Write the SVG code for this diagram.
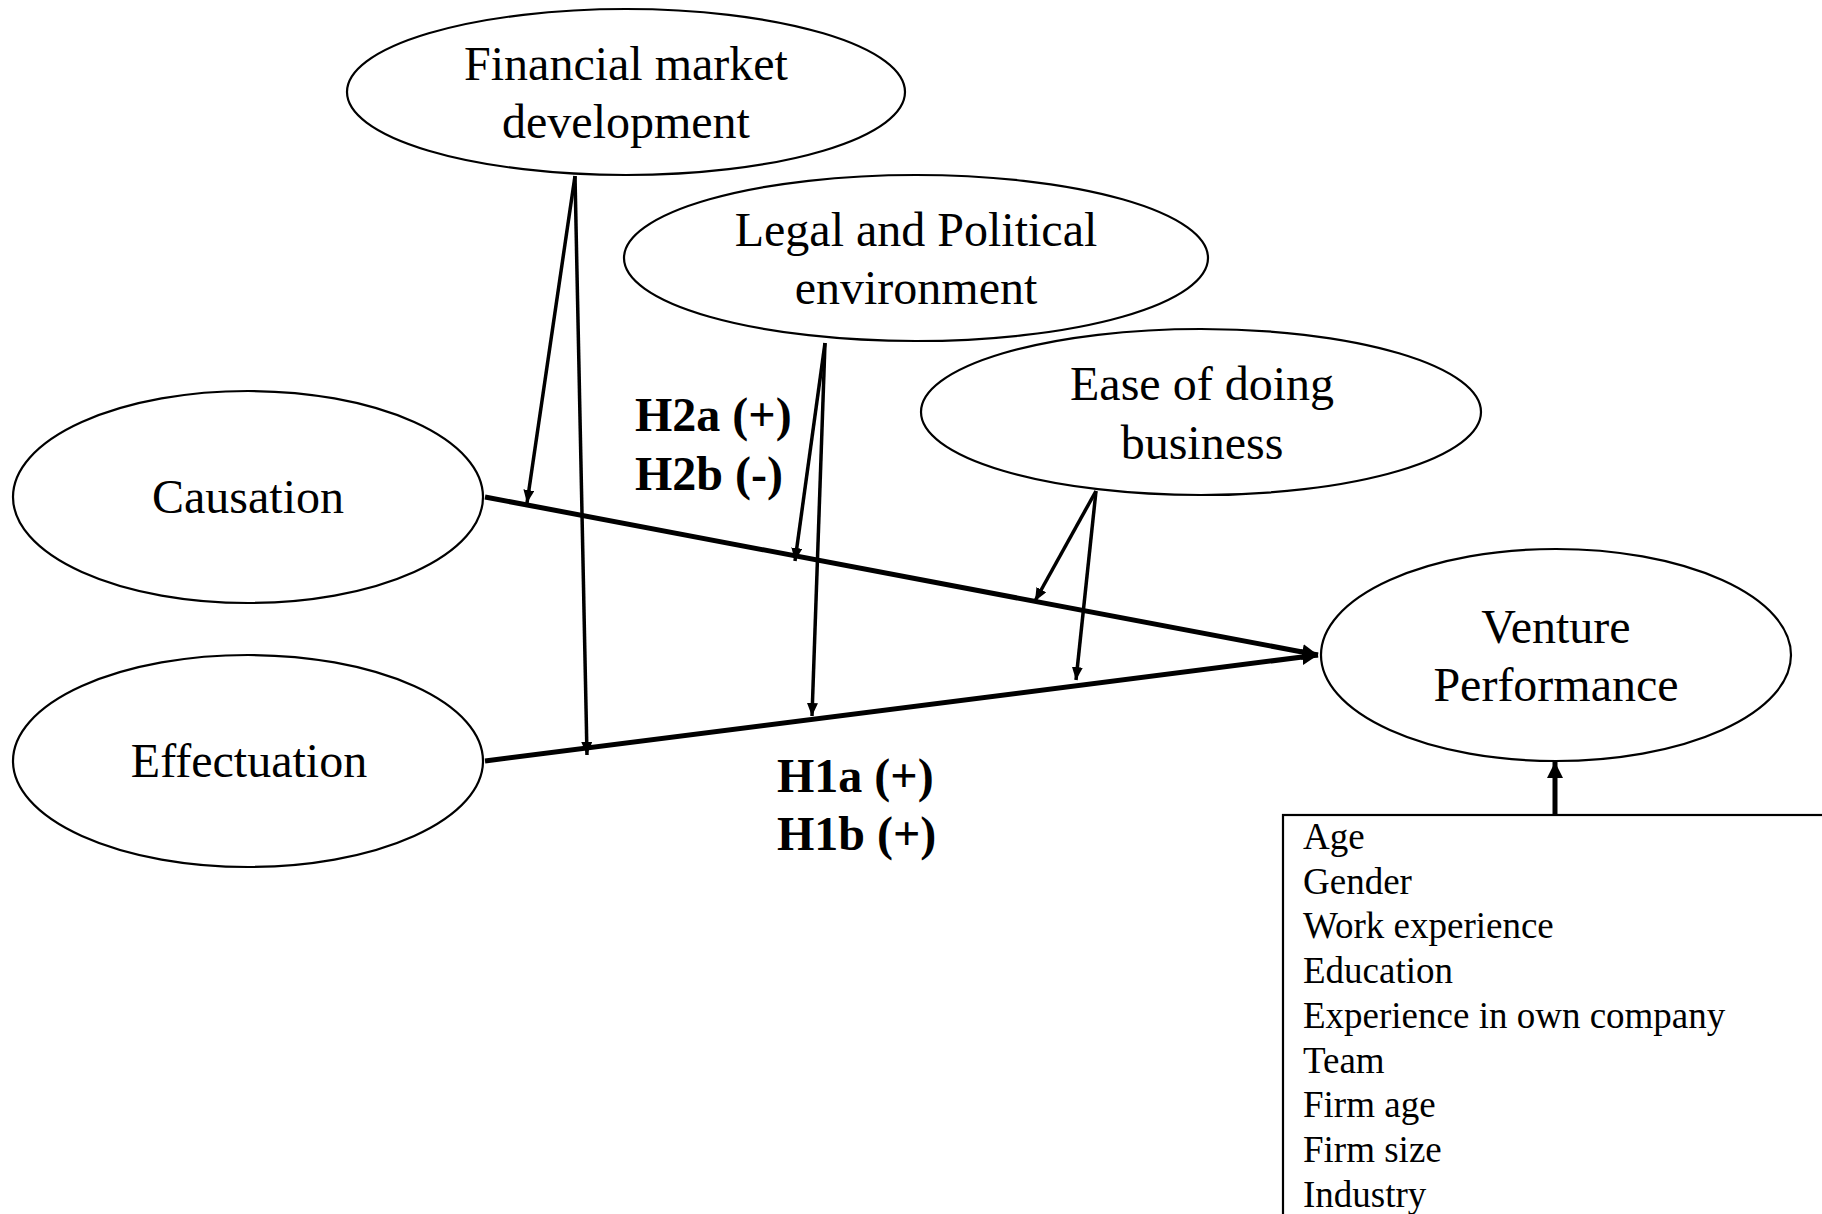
<svg xmlns="http://www.w3.org/2000/svg" width="1822" height="1214" viewBox="0 0 1822 1214">
<style>
.node ellipse{fill:#fff;stroke:#000;stroke-width:2.2}
.lbl{font-family:"Liberation Serif","Times New Roman",serif;font-size:48px;fill:#000;text-anchor:middle}
.hyp{font-family:"Liberation Serif","Times New Roman",serif;font-size:48px;font-weight:bold;fill:#000}
.ctl{font-family:"Liberation Serif","Times New Roman",serif;font-size:37px;fill:#000}
.main{stroke:#000;stroke-width:5;fill:none}
.mod{stroke:#000;stroke-width:3.5;fill:none}
</style>
<defs>
<marker id="ahBig" markerUnits="userSpaceOnUse" markerWidth="18" markerHeight="16" refX="16" refY="8" orient="auto">
<path d="M0,0 L16,8 L0,16 Z" fill="#000"/>
</marker>
<marker id="ahSmall" markerUnits="userSpaceOnUse" markerWidth="15" markerHeight="12" refX="13" refY="5.5" orient="auto">
<path d="M0,0 L13,5.5 L0,11 Z" fill="#000"/>
</marker>
</defs>
<rect x="0" y="0" width="1822" height="1214" fill="#fff"/>

<g id="connectors">
<line class="main" x1="485" y1="497" x2="1318" y2="655" marker-end="url(#ahBig)"/>
<line class="main" x1="485" y1="761" x2="1318" y2="655" marker-end="url(#ahBig)"/>
<line class="mod" x1="575" y1="176" x2="527" y2="503" marker-end="url(#ahSmall)"/>
<line class="mod" x1="575" y1="176" x2="587" y2="755" marker-end="url(#ahSmall)"/>
<line class="mod" x1="825" y1="343" x2="795" y2="561" marker-end="url(#ahSmall)"/>
<line class="mod" x1="825" y1="343" x2="812" y2="716" marker-end="url(#ahSmall)"/>
<line class="mod" x1="1096" y1="491" x2="1035" y2="601" marker-end="url(#ahSmall)"/>
<line class="mod" x1="1096" y1="491" x2="1076" y2="680" marker-end="url(#ahSmall)"/>
<line class="main" x1="1555" y1="815" x2="1555" y2="762" marker-end="url(#ahBig)"/>
</g>

<g id="financial" class="node">
<ellipse cx="626" cy="92" rx="279" ry="83"/>
<text class="lbl" x="626" y="80">Financial market</text>
<text class="lbl" x="626" y="138">development</text>
</g>

<g id="legal" class="node">
<ellipse cx="916" cy="258" rx="292" ry="83"/>
<text class="lbl" x="916" y="246">Legal and Political</text>
<text class="lbl" x="916" y="304">environment</text>
</g>

<g id="ease" class="node">
<ellipse cx="1201" cy="412" rx="280" ry="83"/>
<text class="lbl" x="1202" y="400">Ease of doing</text>
<text class="lbl" x="1202" y="459">business</text>
</g>

<g id="causation" class="node">
<ellipse cx="248" cy="497" rx="235" ry="106"/>
<text class="lbl" x="248" y="513">Causation</text>
</g>

<g id="effectuation" class="node">
<ellipse cx="248" cy="761" rx="235" ry="106"/>
<text class="lbl" x="249" y="777">Effectuation</text>
</g>

<g id="venture" class="node">
<ellipse cx="1556" cy="655" rx="235" ry="106"/>
<text class="lbl" x="1556" y="643">Venture</text>
<text class="lbl" x="1556" y="701">Performance</text>
</g>

<g id="h2">
<text class="hyp" x="635" y="431">H2a (+)</text>
<text class="hyp" x="635" y="490">H2b (-)</text>
</g>

<g id="h1">
<text class="hyp" x="777" y="792">H1a (+)</text>
<text class="hyp" x="777" y="850">H1b (+)</text>
</g>

<g id="controls">
<rect x="1283" y="815" width="600" height="450" fill="#fff" stroke="#000" stroke-width="2.2"/>
<text class="ctl" x="1303" y="849">Age</text>
<text class="ctl" x="1303" y="894">Gender</text>
<text class="ctl" x="1303" y="938">Work experience</text>
<text class="ctl" x="1303" y="983">Education</text>
<text class="ctl" x="1303" y="1028">Experience in own company</text>
<text class="ctl" x="1303" y="1073">Team</text>
<text class="ctl" x="1303" y="1117">Firm age</text>
<text class="ctl" x="1303" y="1162">Firm size</text>
<text class="ctl" x="1303" y="1207">Industry</text>
</g>
</svg>
